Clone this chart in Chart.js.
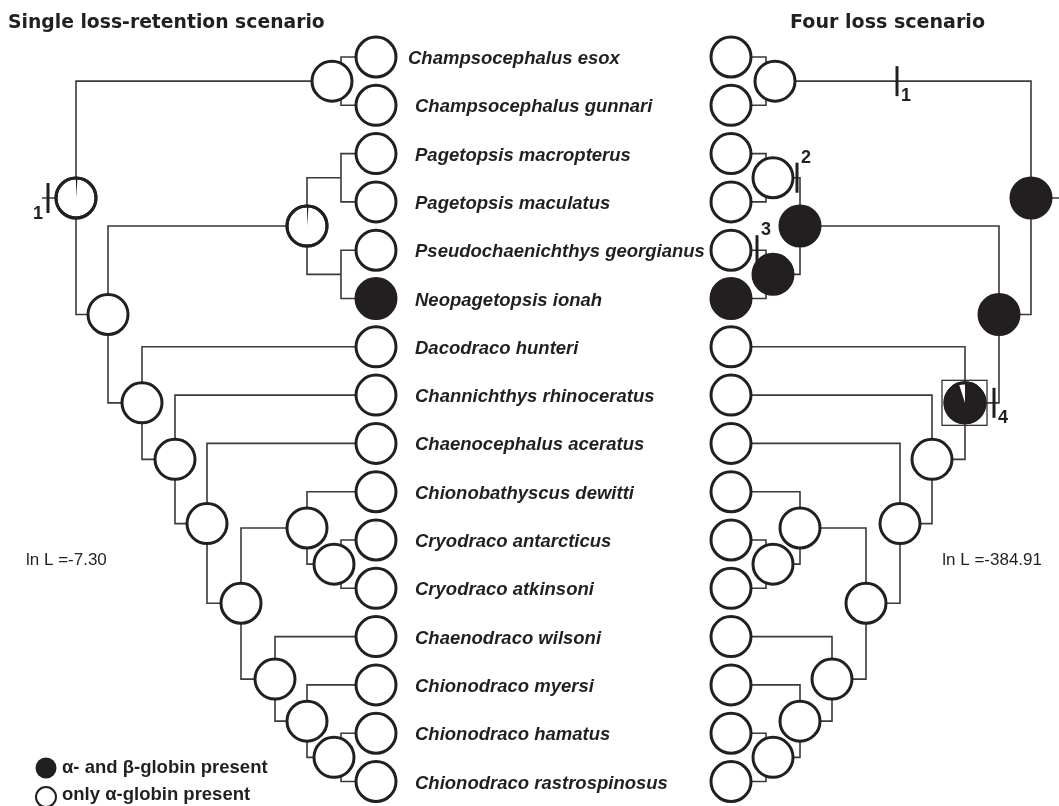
<!DOCTYPE html>
<html>
<head>
<meta charset="utf-8">
<script src="https://cdn.jsdelivr.net/npm/chart.js@4.4.1/dist/chart.umd.min.js"></script>
<style>
  html, body { margin: 0; padding: 0; background: #fff; }
  canvas { display: block; }
</style>
</head>
<body>
<canvas id="tree" width="1059" height="806"></canvas>
<script>
// tips, top to bottom (row = index)
const species = [
  'Champsocephalus esox', 'Champsocephalus gunnari', 'Pagetopsis macropterus',
  'Pagetopsis maculatus', 'Pseudochaenichthys georgianus', 'Neopagetopsis ionah',
  'Dacodraco hunteri', 'Channichthys rhinoceratus', 'Chaenocephalus aceratus',
  'Chionobathyscus dewitti', 'Cryodraco antarcticus', 'Cryodraco atkinsoni',
  'Chaenodraco wilsoni', 'Chionodraco myersi', 'Chionodraco hamatus',
  'Chionodraco rastrospinosus'
];
// 1 = alpha- and beta-globin present at the tip
const tipBeta = [0, 0, 0, 0, 0, 1, 0, 0, 0, 0, 0, 0, 0, 0, 0, 0];

// internal nodes (depth along the tree, row, children: number = tip, string = node)
const nodeIds   = ['root', 'champ', 'A', 'pagPseudo', 'pag', 'pseudo', 'B', 'C', 'D', 'E', 'F', 'H', 'G', 'I', 'J'];
const nodeDepth = [76, 332, 108, 307, 334, 334, 142, 175, 207, 241, 307, 334, 275, 307, 334];
const nodeRow   = [2.92, 0.5, 5.33, 3.5, 2.5, 4.5, 7.16, 8.33, 9.66, 11.31, 9.75, 10.5, 12.88, 13.75, 14.5];
const nodeKids  = [
  ['champ', 'A'], [0, 1], ['pagPseudo', 'B'], ['pag', 'pseudo'], [2, 3], [4, 5],
  [6, 'C'], [7, 'D'], [8, 'E'], ['F', 'G'], [9, 'H'], [10, 11], [12, 'I'], [13, 'J'], [14, 15]
];
const tipDepth = 376;
const rootStub = 42;

// share of "alpha + beta" state at each node (null = no circle drawn)
const singleLoss = [0.012, 0, 0, 0.012, null, null, 0, 0, 0, 0, 0, 0, 0, 0, 0];
const fourLoss   = [1, 0, 1, 1, 0, 1, 0.95, 0, 0, 0, 0, 0, 0, 0, 0];

// loss events: depth, row, label
const lossSingleDepth = [48];
const lossSingleRow   = [2.92];
const lossSingleLabel = ['1'];
const lossFourDepth = [210, 310, 350, 113];
const lossFourRow   = [0.5, 2.5, 4, 7.16];
const lossFourLabel = ['1', '2', '3', '4'];
const lossFourPlace = ['se', 'ne', 'ne', 'se'];

const lnLSingle = '-7.30';
const lnLFour = '-384.91';

const BLACK = '#231f20';
const LINE = '#3a3a3a';
const BRACKET = 341;

function isPair(k) {
  const i = nodeIds.indexOf(k);
  return i >= 0 && nodeKids[i].every(c => typeof c === 'number');
}
function rowOf(k) { return typeof k === 'number' ? k : nodeRow[nodeIds.indexOf(k)]; }
function endOf(k) {
  if (typeof k === 'number') return tipDepth;
  return isPair(k) ? BRACKET : nodeDepth[nodeIds.indexOf(k)];
}

function treeDatasets(states, lossDepth, lossRow, lossLabel, xAxisID, side) {
  const sets = [];
  const line = pts => ({
    data: pts, xAxisID: xAxisID, yAxisID: 'y', showLine: true, clip: false,
    borderColor: LINE, borderWidth: 1.6, pointRadius: 0, order: 5
  });
  sets.push(line([{ x: rootStub, y: nodeRow[0] }, { x: nodeDepth[0], y: nodeRow[0] }]));
  nodeIds.forEach((id, i) => {
    const from = isPair(id) ? BRACKET : nodeDepth[i];
    nodeKids[i].forEach(k => {
      sets.push(line([
        { x: from, y: nodeRow[i] },
        { x: from, y: rowOf(k) },
        { x: endOf(k), y: rowOf(k) }
      ]));
    });
  });

  const pts = [], share = [], fills = [], boxed = [];
  nodeIds.forEach((id, i) => {
    if (states[i] === null) return;
    pts.push({ x: nodeDepth[i], y: nodeRow[i] });
    share.push(states[i]);
    fills.push(states[i] >= 1 ? BLACK : '#ffffff');
    boxed.push(side === 'four' && id === 'B');
  });
  species.forEach((s, i) => {
    pts.push({ x: tipDepth, y: i });
    share.push(tipBeta[i]);
    fills.push(tipBeta[i] ? BLACK : '#ffffff');
    boxed.push(false);
  });
  sets.push({
    data: pts, xAxisID: xAxisID, yAxisID: 'y', share: share, boxed: boxed, clip: false,
    pointRadius: 20, pointBorderWidth: 3, pointBorderColor: BLACK,
    pointBackgroundColor: fills, order: 1
  });

  sets.push({
    data: lossDepth.map((d, i) => ({ x: d, y: lossRow[i] })),
    lossLabel: lossLabel, side: side, clip: false,
    xAxisID: xAxisID, yAxisID: 'y', pointStyle: 'line', pointRotation: 90,
    pointRadius: 15, pointBorderWidth: 3, pointBorderColor: BLACK, order: 0
  });
  return sets;
}

// pick a font size so that text spans the given width
function fitFont(ctx, text, style, family, width) {
  ctx.font = style + ' 20px ' + family;
  const size = 20 * width / ctx.measureText(text).width;
  ctx.font = style + ' ' + size.toFixed(2) + 'px ' + family;
}

const drawExtras = {
  id: 'drawExtras',
  afterDatasetsDraw(chart) {
    const ctx = chart.ctx;
    chart.data.datasets.forEach((ds, di) => {
      const meta = chart.getDatasetMeta(di);
      if (ds.share) {
        meta.data.forEach((pt, j) => {
          const f = ds.share[j];
          const r = ds.pointRadius;
          ctx.save();
          if (ds.boxed[j]) {
            ctx.strokeStyle = '#333';
            ctx.lineWidth = 1.3;
            ctx.strokeRect(pt.x - 23, pt.y - 22.5, 45, 45);
          }
          if (f > 0 && f < 1) {
            ctx.fillStyle = BLACK;
            ctx.beginPath();
            ctx.moveTo(pt.x, pt.y);
            ctx.arc(pt.x, pt.y, r, -Math.PI / 2, -Math.PI / 2 + f * 2 * Math.PI);
            ctx.closePath();
            ctx.fill();
            ctx.lineWidth = 3;
            ctx.strokeStyle = BLACK;
            ctx.beginPath();
            ctx.arc(pt.x, pt.y, r, 0, 2 * Math.PI);
            ctx.stroke();
          }
          ctx.restore();
        });
      }
      if (ds.lossLabel) {
        ctx.save();
        ctx.fillStyle = BLACK;
        ctx.font = 'bold 18px "Liberation Sans", Arial, sans-serif';
        ctx.textBaseline = 'middle';
        meta.data.forEach((pt, j) => {
          if (ds.side === 'single') {
            ctx.textAlign = 'right';
            ctx.fillText(ds.lossLabel[j], pt.x - 5, pt.y + 16);
          } else {
            const place = lossFourPlace[j];
            ctx.textAlign = 'left';
            ctx.fillText(ds.lossLabel[j], pt.x + 4, place === 'se' ? pt.y + 15 : pt.y - 20);
          }
        });
        ctx.restore();
      }
    });

    // species names
    const xs = chart.scales.x, ys = chart.scales.y;
    ctx.save();
    ctx.fillStyle = BLACK;
    ctx.font = 'italic bold 18.5px "Liberation Sans", Arial, sans-serif';
    ctx.textBaseline = 'middle';
    ctx.textAlign = 'left';
    species.forEach((s, i) => {
      const x = xs.getPixelForValue(tipDepth) + (i === 0 ? 32 : 39);
      ctx.fillText(s, x, ys.getPixelForValue(i) + 2);
    });

    // titles
    const titleFamily = '"DejaVu Sans", "Liberation Sans", sans-serif';
    ctx.textBaseline = 'alphabetic';
    fitFont(ctx, 'Single loss-retention scenario', 'bold', titleFamily, 317);
    ctx.fillText('Single loss-retention scenario', 8, 28);
    ctx.textAlign = 'right';
    fitFont(ctx, 'Four loss scenario', 'bold', titleFamily, 195);
    ctx.fillText('Four loss scenario', 985, 28);

    // likelihoods
    ctx.font = '17px "Liberation Sans", Arial, sans-serif';
    ctx.textAlign = 'left';
    ctx.fillText('ln L =' + lnLSingle, 26, 565);
    ctx.textAlign = 'right';
    ctx.fillText('ln L =' + lnLFour, 1042, 565);

    // legend
    ctx.textAlign = 'left';
    ctx.fillStyle = BLACK;
    ctx.beginPath();
    ctx.arc(46, 768, 10.5, 0, 2 * Math.PI);
    ctx.fill();
    ctx.strokeStyle = BLACK;
    ctx.lineWidth = 2;
    ctx.beginPath();
    ctx.arc(46, 797, 10, 0, 2 * Math.PI);
    ctx.stroke();
    ctx.font = 'bold 18.5px "Liberation Sans", Arial, sans-serif';
    ctx.fillText('\u03b1- and \u03b2-globin present', 62, 773);
    ctx.fillText('only \u03b1-globin present', 62, 800);
    ctx.restore();
  }
};

new Chart(document.getElementById('tree'), {
  type: 'scatter',
  data: {
    datasets: [
      ...treeDatasets(singleLoss, lossSingleDepth, lossSingleRow, lossSingleLabel, 'x', 'single'),
      ...treeDatasets(fourLoss, lossFourDepth, lossFourRow, lossFourLabel, 'xr', 'four')
    ]
  },
  options: {
    responsive: false,
    devicePixelRatio: 1,
    animation: false,
    events: [],
    layout: { autoPadding: false, padding: 0 },
    elements: { line: { tension: 0 } },
    plugins: { legend: { display: false }, tooltip: { enabled: false }, title: { display: false } },
    scales: {
      x: { type: 'linear', min: 0, max: 1059, display: false },
      xr: { type: 'linear', axis: 'x', position: 'bottom', min: 48, max: 1107, reverse: true, display: false },
      y: { type: 'linear', min: -1.18, max: 15.507, reverse: true, display: false }
    }
  },
  plugins: [drawExtras]
});
</script>
</body>
</html>
